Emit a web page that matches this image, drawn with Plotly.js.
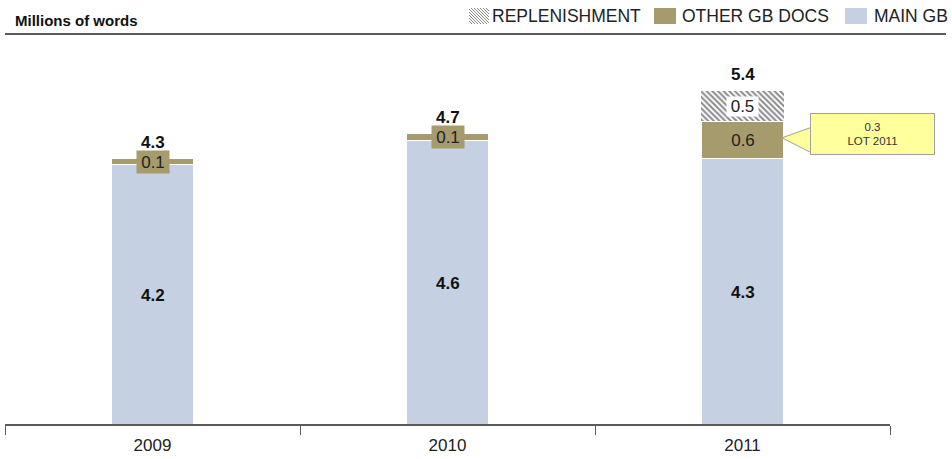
<!DOCTYPE html>
<html>
<head>
<meta charset="utf-8">
<script src="https://cdn.plot.ly/plotly-3.0.1.min.js"></script>
<style>html,body{margin:0;padding:0;background:#fff;}#chart{width:952px;height:459px;}</style>
</head>
<body>
<div id="chart"></div>
<script>
var years = ['2009', '2010', '2011'];
var mainGB = [4.2, 4.6, 4.3];
var otherGB = [0.1, 0.1, 0.6];
var replenishment = [null, null, 0.5];
var totals = [4.3, 4.7, 5.4];
var seriesNames = ['MAIN GB', 'OTHER GB DOCS', 'REPLENISHMENT'];
var calloutValue = 0.3;
var calloutLabel = 'LOT 2011';

var cMain = '#C5D0E3', cOther = '#A69B6C', cHatch = '#8a8a8a', cYellow = '#FFFF9C', cBorder = '#a0a0a0';
var F = 'Liberation Sans, Arial, sans-serif';
var W = 0.28;
var T = 40, B = 35, L = 5, R = 62;           // margins (px)
var PH = 459 - T - B, PW = 952 - L - R;      // plot size (px)
function px2paperX(p) { return (p - L) / PW; }
function px2paperY(p) { return (459 - B - p) / PH; }

var traces = [
  {type: 'bar', name: seriesNames[0], x: years, y: mainGB, width: W,
   marker: {color: cMain, line: {color: '#ffffff', width: 1}}, hoverinfo: 'none'},
  {type: 'bar', name: seriesNames[1], x: years, y: otherGB, width: W,
   marker: {color: cOther, line: {color: '#ffffff', width: 1}}, hoverinfo: 'none'},
  {type: 'bar', name: seriesNames[2], x: years, y: replenishment, width: W,
   marker: {color: '#ffffff', line: {color: '#ffffff', width: 0},
            pattern: {shape: '\\', size: 4, solidity: 0.5, fgcolor: cHatch, bgcolor: '#ffffff', fillmode: 'replace'}},
   hoverinfo: 'none'}
];

var ann = [];
years.forEach(function (yr, i) {
  ann.push({x: i, y: mainGB[i] / 2, yshift: -1, text: '<b>' + mainGB[i].toFixed(1) + '</b>', showarrow: false,
            font: {family: F, size: 17, color: '#111'}});
  ann.push({x: i, y: mainGB[i] + otherGB[i] / 2, text: otherGB[i].toFixed(1), showarrow: false,
            width: 30, height: 20, bgcolor: cOther, borderpad: 1, font: {family: F, size: 17, color: '#222'}});
  if (replenishment[i] != null) {
    ann.push({x: i, y: mainGB[i] + otherGB[i] + replenishment[i] / 2, text: replenishment[i].toFixed(1), showarrow: false,
              width: 29, height: 17, bgcolor: '#ffffff', borderpad: 1, font: {family: F, size: 17, color: '#222'}});
  }
  ann.push({x: i, y: totals[i], yanchor: 'bottom', yshift: 5, text: '<b>' + totals[i].toFixed(1) + '</b>', showarrow: false,
            font: {family: F, size: 17, color: '#111'}});
});
// callout box
ann.push({x: 2.439, y: 4.70, text: calloutValue.toFixed(1) + '<br>' + calloutLabel, showarrow: false,
          width: 121, height: 38, bgcolor: cYellow, bordercolor: cBorder, borderwidth: 1, xshift: 0,
          font: {family: F, size: 11.5, color: '#333'}});
// header title
ann.push({xref: 'paper', yref: 'paper', x: px2paperX(13), y: px2paperY(21), xanchor: 'left', yanchor: 'middle',
          text: '<b>Millions of words</b>', showarrow: false, font: {family: F, size: 15, color: '#111'}});

// manual legend (top right)
var legendItems = [
  {name: seriesNames[2], sw: 469, tx: 490, hatch: true},
  {name: seriesNames[1], sw: 654, tx: 680, color: cOther},
  {name: seriesNames[0], sw: 845, tx: 872, color: cMain}
];
var shapes = [
  {type: 'line', xref: 'paper', yref: 'paper', x0: 0, x1: px2paperX(946), y0: px2paperY(34), y1: px2paperY(34),
   line: {color: '#5a5a5a', width: 2}},
  // callout pointer
  {type: 'path', xref: 'x', yref: 'y', xsizemode: 'pixel', ysizemode: 'pixel', xanchor: 2, yanchor: 4.70,
   path: 'M 39.5 -4 L 73 8 L 73 -21 Z', fillcolor: cYellow, line: {color: cBorder, width: 1}, layer: 'above'}
];
var swTop = 8, swBot = 24;
legendItems.forEach(function (it) {
  var sw = 22;
  if (it.hatch) {
    sw = 20;
    shapes.push({type: 'rect', xref: 'paper', yref: 'paper', x0: px2paperX(it.sw), x1: px2paperX(it.sw + sw),
                 y0: px2paperY(swBot), y1: px2paperY(swTop), fillcolor: '#ffffff', line: {width: 0}});
    // diagonal hatch lines clipped to swatch
    var h = swBot - swTop, p = '';
    for (var k = -h; k < sw; k += 3) {
      var xa = it.sw + k, ya = swTop, xb = it.sw + k + h, yb = swBot;
      if (xa < it.sw) { ya += (it.sw - xa); xa = it.sw; }
      if (xb > it.sw + sw) { yb -= (xb - it.sw - sw); xb = it.sw + sw; }
      if (xb <= xa) continue;
      p += 'M' + (xa - L) + ',' + (T - ya) + 'L' + (xb - L) + ',' + (T - yb);
    }
    shapes.push({type: 'path', xref: 'paper', yref: 'paper', xsizemode: 'pixel', ysizemode: 'pixel',
                 xanchor: 0, yanchor: 1, path: p, line: {color: cHatch, width: 1}});
  } else {
    shapes.push({type: 'rect', xref: 'paper', yref: 'paper', x0: px2paperX(it.sw), x1: px2paperX(it.sw + sw),
                 y0: px2paperY(swBot), y1: px2paperY(swTop), fillcolor: it.color, line: {width: 0}});
  }
  ann.push({xref: 'paper', yref: 'paper', x: px2paperX(it.tx), y: px2paperY(16), xanchor: 'left', yanchor: 'middle',
            text: it.name, showarrow: false, font: {family: F, size: 17.5, color: '#222'}});
});

var layout = {
  width: 952, height: 459,
  margin: {l: L, r: R, t: T, b: B},
  paper_bgcolor: '#fff', plot_bgcolor: '#fff',
  barmode: 'stack',
  font: {family: F, size: 15, color: '#222'},
  showlegend: false,
  xaxis: {type: 'category', range: [-0.5, 2.5], showline: true, linecolor: '#5a5a5a', linewidth: 1.5,
          ticks: 'outside', tickson: 'boundaries', ticklen: 9, tickcolor: '#5a5a5a', tickwidth: 1,
          ticklabelstandoff: 5,
          showgrid: false, zeroline: false, fixedrange: true,
          tickfont: {family: F, size: 17, color: '#222'}},
  yaxis: {range: [0, 6.22], visible: false, showgrid: false, zeroline: false, fixedrange: true},
  annotations: ann,
  shapes: shapes
};

Plotly.newPlot('chart', traces, layout, {displayModeBar: false, staticPlot: true});
</script>
</body>
</html>
